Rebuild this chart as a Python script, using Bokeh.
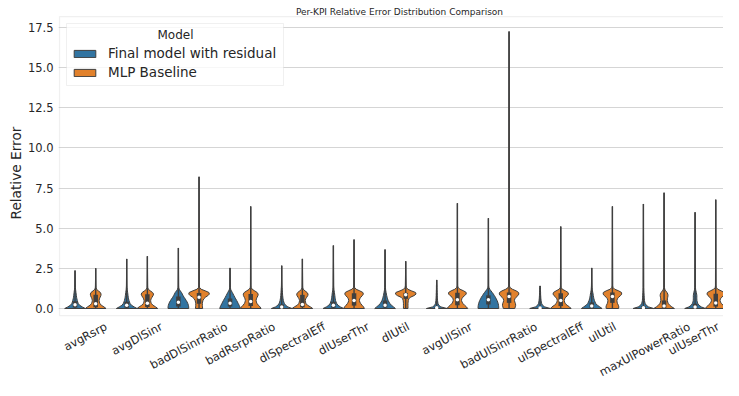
import math
from bokeh.plotting import figure
from bokeh.models import (Range1d, FixedTicker, PrintfTickFormatter, Legend, LegendItem, Label,
                          BoxAnnotation, Title)
from bokeh.embed import file_html
from bokeh.resources import INLINE

# ---------------- data ----------------
TITLE = "Per-KPI Relative Error Distribution Comparison"
Y_LABEL = "Relative Error"
LEGEND_TITLE = "Model"
MODELS = ["Final model with residual", "MLP Baseline"]
COLORS = ["#3274A1", "#E1812C"]

KPIS = ["avgRsrp", "avgDlSinr", "badDlSinrRatio", "badRsrpRatio", "dlSpectralEff",
        "dlUserThr", "dlUtil", "avgUlSinr", "badUlSinrRatio", "ulSpectralEff",
        "ulUtil", "maxUlPowerRatio", "ulUserThr"]

Y_TICKS = [0.0, 2.5, 5.0, 7.5, 10.0, 12.5, 15.0, 17.5]

# relative error levels at which the violin density (relative half width) is read
PROFILE_Y = [0.0, 0.1, 0.2, 0.3, 0.4, 0.5, 0.6, 0.7, 0.8, 0.9, 1.0, 1.1, 1.2, 1.3, 1.4]

FINAL_DENSITY = [
    [1.0, 0.70, 0.45, 0.32, 0.26, 0.22, 0.18, 0.15, 0.13, 0.11, 0.09, 0.07, 0.05, 0.04, 0.03],
    [1.0, 0.72, 0.47, 0.34, 0.27, 0.22, 0.18, 0.15, 0.13, 0.11, 0.09, 0.07, 0.05, 0.04, 0.03],
    [1.0, 1.0, 0.97, 0.92, 0.85, 0.76, 0.66, 0.55, 0.46, 0.38, 0.30, 0.18, 0.08, 0.04, 0.03],
    [1.0, 0.95, 0.88, 0.80, 0.72, 0.64, 0.55, 0.46, 0.38, 0.30, 0.22, 0.13, 0.06, 0.04, 0.03],
    [1.0, 0.60, 0.38, 0.27, 0.20, 0.16, 0.13, 0.11, 0.09, 0.08, 0.07, 0.06, 0.05, 0.04, 0.03],
    [1.0, 0.68, 0.45, 0.33, 0.26, 0.21, 0.18, 0.16, 0.14, 0.12, 0.10, 0.07, 0.05, 0.04, 0.03],
    [1.0, 0.82, 0.62, 0.48, 0.38, 0.30, 0.24, 0.20, 0.16, 0.13, 0.10, 0.07, 0.05, 0.04, 0.03],
    [1.0, 0.40, 0.20, 0.13, 0.10, 0.08, 0.07, 0.06, 0.05, 0.05, 0.04, 0.04, 0.03, 0.03, 0.03],
    [1.0, 1.0, 0.98, 0.95, 0.90, 0.84, 0.76, 0.68, 0.58, 0.48, 0.37, 0.25, 0.13, 0.06, 0.03],
    [1.0, 0.45, 0.24, 0.16, 0.12, 0.10, 0.08, 0.07, 0.06, 0.05, 0.05, 0.04, 0.04, 0.03, 0.03],
    [1.0, 0.78, 0.55, 0.40, 0.32, 0.26, 0.21, 0.18, 0.15, 0.13, 0.10, 0.07, 0.05, 0.04, 0.03],
    [1.0, 0.50, 0.28, 0.18, 0.13, 0.10, 0.09, 0.08, 0.07, 0.06, 0.05, 0.04, 0.04, 0.03, 0.03],
    [1.0, 0.60, 0.38, 0.27, 0.21, 0.18, 0.17, 0.17, 0.17, 0.15, 0.12, 0.08, 0.05, 0.04, 0.03],
]
MLP_DENSITY = [
    [1.0, 0.80, 0.55, 0.42, 0.35, 0.33, 0.36, 0.43, 0.50, 0.52, 0.45, 0.25, 0.08, 0.04, 0.03],
    [1.0, 0.80, 0.55, 0.40, 0.33, 0.32, 0.36, 0.45, 0.55, 0.60, 0.50, 0.28, 0.09, 0.04, 0.03],
    [0.35, 0.33, 0.32, 0.32, 0.34, 0.38, 0.46, 0.62, 0.85, 1.0, 0.95, 0.60, 0.20, 0.06, 0.03],
    [1.0, 0.90, 0.75, 0.62, 0.55, 0.52, 0.55, 0.62, 0.70, 0.72, 0.62, 0.38, 0.14, 0.05, 0.03],
    [1.0, 0.78, 0.50, 0.36, 0.30, 0.28, 0.32, 0.42, 0.52, 0.55, 0.45, 0.25, 0.08, 0.04, 0.03],
    [1.0, 0.92, 0.78, 0.65, 0.56, 0.52, 0.55, 0.65, 0.80, 0.90, 0.85, 0.55, 0.20, 0.06, 0.03],
    [0.22, 0.22, 0.22, 0.22, 0.23, 0.25, 0.30, 0.45, 0.80, 1.0, 0.95, 0.55, 0.20, 0.08, 0.04],
    [1.0, 0.88, 0.70, 0.55, 0.45, 0.40, 0.42, 0.52, 0.70, 0.85, 0.85, 0.60, 0.25, 0.08, 0.03],
    [0.55, 0.60, 0.64, 0.62, 0.56, 0.52, 0.56, 0.68, 0.85, 0.95, 0.92, 0.68, 0.32, 0.10, 0.04],
    [1.0, 0.85, 0.62, 0.45, 0.37, 0.34, 0.37, 0.48, 0.65, 0.75, 0.70, 0.45, 0.15, 0.05, 0.03],
    [0.60, 0.62, 0.58, 0.50, 0.45, 0.44, 0.48, 0.60, 0.78, 0.90, 0.88, 0.60, 0.22, 0.07, 0.03],
    [1.0, 0.75, 0.55, 0.42, 0.35, 0.32, 0.32, 0.35, 0.38, 0.36, 0.28, 0.16, 0.07, 0.04, 0.03],
    [1.0, 0.90, 0.72, 0.56, 0.46, 0.42, 0.45, 0.58, 0.75, 0.85, 0.80, 0.52, 0.20, 0.06, 0.03],
]

FINAL_MAX = [2.36, 3.09, 3.77, 2.53, 2.67, 3.92, 3.67, 1.78, 5.62, 1.39, 2.53, 6.51, 5.99]
MLP_MAX = [2.50, 3.25, 8.20, 6.36, 3.09, 4.29, 2.94, 6.55, 17.25, 5.10, 6.36, 7.21, 6.78]

FINAL_Q1 = [0.06, 0.05, 0.12, 0.12, 0.03, 0.05, 0.06, 0.01, 0.25, 0.01, 0.05, 0.01, 0.03]
FINAL_MED = [0.23, 0.20, 0.39, 0.33, 0.10, 0.20, 0.20, 0.05, 0.54, 0.03, 0.15, 0.05, 0.10]
FINAL_Q3 = [0.45, 0.42, 0.75, 0.62, 0.25, 0.42, 0.50, 0.12, 0.82, 0.08, 0.38, 0.15, 0.30]

MLP_Q1 = [0.08, 0.10, 0.30, 0.15, 0.08, 0.18, 0.60, 0.20, 0.35, 0.15, 0.35, 0.04, 0.12]
MLP_MED = [0.30, 0.32, 0.70, 0.43, 0.25, 0.50, 0.85, 0.54, 0.75, 0.50, 0.75, 0.15, 0.35]
MLP_Q3 = [0.85, 0.88, 0.97, 0.90, 0.85, 0.95, 0.97, 0.98, 1.00, 0.95, 1.00, 0.50, 0.92]

# ---------------- layout / style ----------------
W, H = 723, 380
FRAME_LEFT = 58            # canvas x of the plotting frame (frame spans the whole canvas height)
AX_TOP, AX_BOTTOM = 16, 315
ZERO_Y = 308               # canvas y of value 0
PX_PER_UNIT = 16.057
X_START, X_END = -0.52, 12.35
PX_PER_CAT = (W - FRAME_LEFT) / (X_END - X_START)


def ydata(canvas_y):
    return (ZERO_Y - canvas_y) / PX_PER_UNIT


def xdata(canvas_x):
    return (canvas_x - FRAME_LEFT) / PX_PER_CAT + X_START


FONT = "DejaVu Sans"
TEXT_COLOR = "#262626"
EDGE = "#3f3f3f"
DODGE = 0.2
HALF_W = 0.2
YTICK_FS = 11.5
XTICK_FS = 11.5
ROT = 28

p = figure(width=W, height=H, output_backend="svg", toolbar_location=None,
           x_range=Range1d(X_START, X_END), y_range=Range1d(ydata(H), ydata(0)),
           min_border_left=FRAME_LEFT, min_border_right=0,
           min_border_top=0, min_border_bottom=0)
p.background_fill_color = "white"
p.border_fill_color = "white"
p.outline_line_color = None

p.xaxis.visible = False
p.xgrid.grid_line_color = None
p.ygrid.grid_line_color = "#d5d5d5"
p.ygrid.grid_line_width = 1
p.ygrid.ticker = FixedTicker(ticks=Y_TICKS)

ya = p.yaxis[0]
ya.ticker = FixedTicker(ticks=Y_TICKS)
ya.formatter = PrintfTickFormatter(format="%.1f")
ya.axis_line_color = None
ya.major_tick_line_color = None
ya.minor_tick_line_color = None
ya.major_tick_out = 0
ya.major_tick_in = 0
ya.minor_tick_out = 0
ya.major_label_text_font = FONT
ya.major_label_text_font_size = f"{YTICK_FS}px"
ya.major_label_text_color = TEXT_COLOR
ya.major_label_standoff = 5

# y-axis title, placed beside the axes box (not the full frame)
p.add_layout(Title(text=Y_LABEL, align="left", offset=H - 219, standoff=2,
                   text_font=FONT, text_font_size="13.7px", text_font_style="normal",
                   text_color=TEXT_COLOR), "left")

# axes box (right spine lies beyond the visible area, as in the original)
p.add_layout(BoxAnnotation(left=xdata(FRAME_LEFT + 1), right=X_END + 1, bottom=ydata(AX_BOTTOM),
                           top=ydata(AX_TOP), fill_alpha=0, line_color="#cccccc", line_width=1.25,
                           level="underlay"))

renderers = []
for h, (dens, vmax, q1, med, q3) in enumerate([
        (FINAL_DENSITY, FINAL_MAX, FINAL_Q1, FINAL_MED, FINAL_Q3),
        (MLP_DENSITY, MLP_MAX, MLP_Q1, MLP_MED, MLP_Q3)]):
    off = -DODGE if h == 0 else DODGE
    xs_all, ys_all = [], []
    for i in range(len(KPIS)):
        c = i + off
        ys = list(PROFILE_Y) + [vmax[i]]
        hw = [d * HALF_W for d in dens[i]] + [0.0]
        right_x = [c + w for w in hw]
        left_x = [c - w for w in hw][::-1]
        xs_all.append(right_x + left_x)
        ys_all.append(ys + ys[::-1])
    r = p.patches(xs_all, ys_all, fill_color=COLORS[h], line_color=EDGE, line_width=1)
    renderers.append(r)
    cx = [i + off for i in range(len(KPIS))]
    p.segment(x0=cx, y0=[0.0] * len(cx), x1=cx, y1=vmax, line_color=EDGE, line_width=1.4)
    p.segment(x0=cx, y0=q1, x1=cx, y1=q3, line_color=EDGE, line_width=4.5)
    p.scatter(x=cx, y=med, marker="circle", size=3.5, fill_color="white", line_color=None)

# legend frame
p.add_layout(BoxAnnotation(left=xdata(66), right=xdata(283), top=ydata(23), bottom=ydata(85),
                           fill_color="white", fill_alpha=0.8, line_color="#cccccc", line_width=1))

legend = Legend(items=[LegendItem(label=MODELS[k], renderers=[renderers[k]]) for k in range(2)],
                location=(71 - FRAME_LEFT, H - 80.5), margin=0, padding=0, spacing=2,
                label_text_font=FONT, label_text_font_size="13.5px", label_text_color=TEXT_COLOR,
                label_height=17, glyph_height=9, glyph_width=27, label_standoff=10,
                border_line_color=None, background_fill_alpha=0)
p.add_layout(legend)

p.add_layout(Label(x=xdata(175), y=ydata(34), text=LEGEND_TITLE, text_font=FONT, text_font_size="12px",
                   text_color=TEXT_COLOR, text_align="center", text_baseline="middle"))

# chart title
p.add_layout(Label(x=xdata(399), y=ydata(11), text=TITLE, text_font=FONT, text_font_size="9px",
                   text_color=TEXT_COLOR, text_align="center", text_baseline="middle"))

# rotated category labels, centred under each category (matplotlib ha="center" style),
# kept inside the canvas and clear of their right-hand neighbour
ADV = {"a": 1255, "b": 1300, "c": 1126, "d": 1300, "e": 1260, "f": 721, "g": 1300, "h": 1298,
       "i": 569, "l": 569, "m": 1995, "n": 1298, "o": 1253, "p": 1300, "r": 842, "s": 1067,
       "t": 803, "u": 1298, "v": 1212, "w": 1675, "x": 1212, "D": 1577, "E": 1294, "P": 1235,
       "R": 1423, "S": 1300, "T": 1251, "U": 1499}
th = math.radians(ROT)
hbox = XTICK_FS * 1.17
centers_x, centers_y = [], []
for i, name in enumerate(KPIS):
    L = sum(ADV.get(ch, 1250) for ch in name) / 2048 * XTICK_FS
    hrot = L * math.sin(th) + hbox * math.cos(th)
    wrot = L * math.cos(th) + hbox * math.sin(th)
    sx = FRAME_LEFT + (i - X_START) * PX_PER_CAT
    sx = min(sx, W - 2 - wrot / 2)
    centers_x.append(sx)
    centers_y.append(AX_BOTTOM + 4 + hrot / 2)
for i in range(len(KPIS) - 2, -1, -1):
    need = (hbox - (centers_y[i + 1] - centers_y[i]) * math.cos(th)) / math.sin(th)
    centers_x[i] = min(centers_x[i], centers_x[i + 1] - need)

for i, name in enumerate(KPIS):
    p.add_layout(Label(x=xdata(centers_x[i]), y=ydata(centers_y[i]), text=name, angle=ROT,
                       angle_units="deg", text_font=FONT, text_font_size=f"{XTICK_FS}px",
                       text_color=TEXT_COLOR, text_align="center", text_baseline="middle"))

open("out.html", "w").write(file_html(p, INLINE))
